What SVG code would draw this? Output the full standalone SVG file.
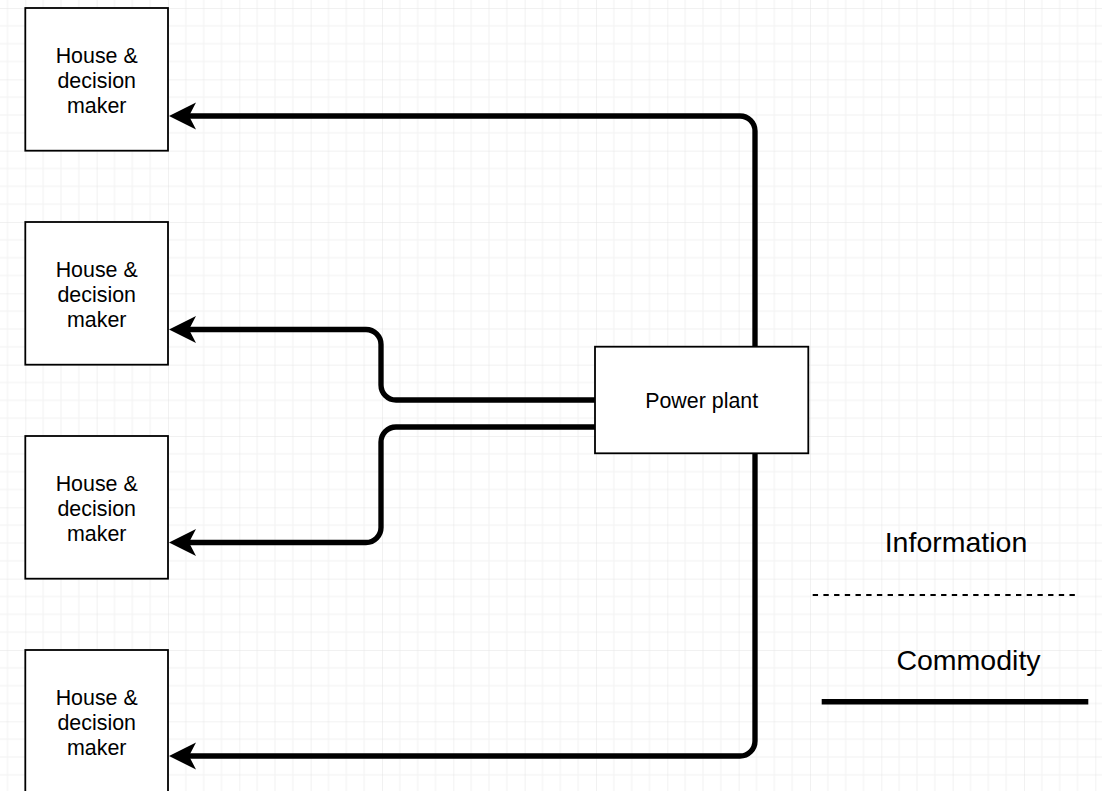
<svg xmlns="http://www.w3.org/2000/svg" width="1102" height="791" viewBox="0 0 1102 791">
  <style>
    .box { fill: #ffffff; stroke: #000000; stroke-width: 1.8; }
    .lbl { font-family: "Liberation Sans", Arial, sans-serif; font-size: 21.4px; fill: #000000; text-anchor: middle; }
    .leg { font-family: "Liberation Sans", Arial, sans-serif; font-size: 28.5px; fill: #000000; text-anchor: middle; }
    .flow { fill: none; stroke: #000000; stroke-width: 5.35; marker-end: url(#arrow); }
  </style>
  <defs>
    <pattern id="grid" patternUnits="userSpaceOnUse" x="25.33" y="8" width="71.333" height="71.333">
      <path d="M17.833,0 V71.333 M35.667,0 V71.333 M53.5,0 V71.333 M0,17.833 H71.333 M0,35.667 H71.333 M0,53.5 H71.333" stroke="#f2f2f2" stroke-width="1" fill="none"/>
      <path d="M0,0 V71.333 M0,0 H71.333" stroke="#e3e3e3" stroke-width="1" fill="none"/>
    </pattern>
    <marker id="arrow" markerUnits="userSpaceOnUse" markerWidth="30" markerHeight="30" viewBox="0 0 30 30" refX="7" refY="13.5" orient="auto">
      <path d="M0,0 L27,13.5 L0,27 L7,13.5 Z" fill="#000000"/>
    </marker>
  </defs>
  <rect x="0" y="0" width="1102" height="791" fill="#ffffff"/>
  <rect x="0" y="0" width="1102" height="791" fill="url(#grid)"/>

  <g id="connectors">
    <path class="flow" d="M755,346.7 V131 A15,15 0 0 0 740,116 H189"/>
    <path class="flow" d="M595,400 H396 A15,15 0 0 1 381,385 V344.5 A15,15 0 0 0 366,329.5 H189"/>
    <path class="flow" d="M595,427 H396 A15,15 0 0 0 381,442 V527.5 A15,15 0 0 1 366,542.5 H189"/>
    <path class="flow" d="M755,453.3 V741 A15,15 0 0 1 740,756 H189"/>
  </g>

  <g id="house1">
    <rect class="box" x="25.3" y="8" width="142.7" height="142.7"/>
    <text class="lbl" x="96.7" y="63.4">House &amp;</text>
    <text class="lbl" x="96.7" y="88">decision</text>
    <text class="lbl" x="96.7" y="112.6">maker</text>
  </g>
  <g id="house2">
    <rect class="box" x="25.3" y="222" width="142.7" height="142.7"/>
    <text class="lbl" x="96.7" y="277.4">House &amp;</text>
    <text class="lbl" x="96.7" y="302">decision</text>
    <text class="lbl" x="96.7" y="326.6">maker</text>
  </g>
  <g id="house3">
    <rect class="box" x="25.3" y="436" width="142.7" height="142.7"/>
    <text class="lbl" x="96.7" y="491.4">House &amp;</text>
    <text class="lbl" x="96.7" y="516">decision</text>
    <text class="lbl" x="96.7" y="540.6">maker</text>
  </g>
  <g id="house4">
    <rect class="box" x="25.3" y="650" width="142.7" height="142.7"/>
    <text class="lbl" x="96.7" y="705.4">House &amp;</text>
    <text class="lbl" x="96.7" y="730">decision</text>
    <text class="lbl" x="96.7" y="754.6">maker</text>
  </g>
  <g id="powerplant">
    <rect class="box" x="595" y="346.7" width="213.3" height="106.6"/>
    <text class="lbl" x="701.7" y="407.5">Power plant</text>
  </g>

  <g id="legend">
    <text class="leg" x="956" y="551.7">Information</text>
    <line x1="812.7" y1="595" x2="1075" y2="595" stroke="#000000" stroke-width="1.8" stroke-dasharray="5.35 5.35"/>
    <text class="leg" x="968.5" y="670">Commodity</text>
    <line x1="821.7" y1="701.7" x2="1088.3" y2="701.7" stroke="#000000" stroke-width="5.35"/>
  </g>
</svg>
